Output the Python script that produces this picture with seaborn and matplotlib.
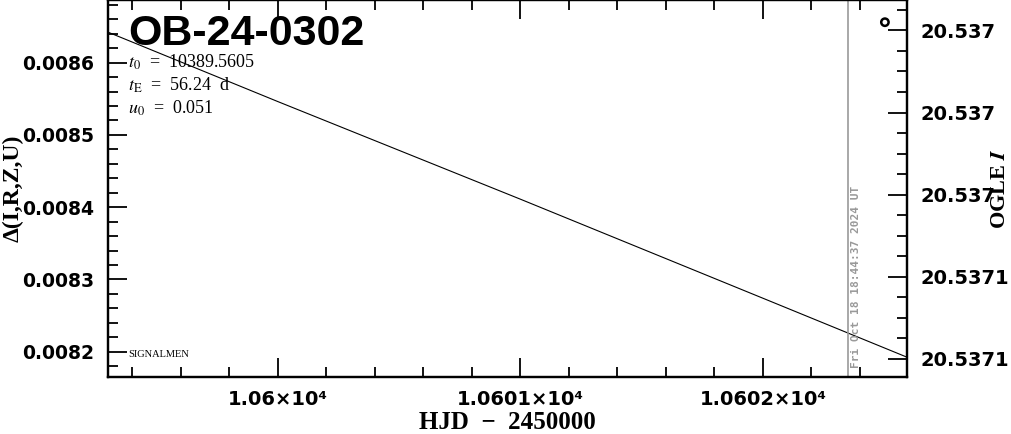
import numpy as np
import pandas as pd
import matplotlib
matplotlib.use("Agg")
import matplotlib.pyplot as plt
from matplotlib.ticker import MultipleLocator, FuncFormatter
import seaborn as sns

# model curve (HJD - 2450000, delta flux)
model_hjd = [10599.30, 10600.00, 10601.00, 10602.00, 10602.59]
model_delta = [0.008642, 0.008546, 0.008411, 0.008274, 0.008193]

# single OGLE I measurement
obs_hjd = [10602.503]
obs_mag = [20.536998]

now_hjd = 10602.35
now_label = "Fri Oct 18 18:44:37 2024 UT"
event_name = "OB-24-0302"
params = [r"$t_0$  =  10389.5605", r"$t_{\rm E}$  =  56.24  d", r"$u_0$  =  0.051"]

sns.set_theme(style="ticks")
plt.rcParams["font.family"] = ["DejaVu Sans"]
plt.rcParams["mathtext.fontset"] = "stix"
for k in ["text.color", "axes.labelcolor", "xtick.color", "ytick.color", "axes.edgecolor"]:
    plt.rcParams[k] = "black"

fig = plt.figure(figsize=(10.11, 4.34), dpi=100)
ax = fig.add_axes([0.1068, 0.1313, 0.7903, 0.8677])

df_model = pd.DataFrame({"hjd": model_hjd, "delta": model_delta})
sns.lineplot(data=df_model, x="hjd", y="delta", ax=ax, color="black", linewidth=0.8)

ax.set_xlim(10599.299, 10602.594)
ax.set_ylim(0.008165, 0.008686)
ax.axvline(now_hjd, color="#999999", linewidth=1.2)
ax.text(now_hjd + 0.012, 0.008178, now_label, rotation=90, color="#999999",
        fontsize=8, fontweight="bold", family="DejaVu Sans Mono",
        ha="left", va="bottom")

ax.xaxis.set_major_locator(MultipleLocator(1))
ax.xaxis.set_minor_locator(MultipleLocator(0.2))
ax.xaxis.set_major_formatter(FuncFormatter(lambda v, p: f"{v/1e4:g}\u00d710\u2074"))
ax.yaxis.set_major_locator(MultipleLocator(0.0001))
ax.yaxis.set_minor_locator(MultipleLocator(0.00002))
ax.yaxis.set_major_formatter(FuncFormatter(lambda v, p: f"{v:.4f}"))

ax.tick_params(which="both", direction="in", top=True, right=False, width=1.3,
               labelsize=14, pad=9)
ax.tick_params(axis="y", labelsize=13.5, pad=10)
ax.tick_params(which="major", length=14)
ax.tick_params(which="minor", length=7)
for lab in ax.get_xticklabels() + ax.get_yticklabels():
    lab.set_fontweight("bold")
for s in ax.spines.values():
    s.set_linewidth(1.6)

ax.set_xlabel("HJD  \u2212  2450000", family="Liberation Serif", fontweight="bold",
              fontsize=18, labelpad=2)
ax.set_ylabel("\u0394(I,R,Z,U)", family="Liberation Serif", fontweight="bold",
              fontsize=17, labelpad=-1)

ax.text(0.025, 0.965, event_name, transform=ax.transAxes, fontsize=31,
        fontweight="bold", family="Liberation Sans", va="top", ha="left")
for i, t in enumerate(params):
    ax.text(0.025, 0.835 - i * 0.061, t, transform=ax.transAxes, fontsize=13,
            family="Liberation Serif", va="center", ha="left")
ax.text(0.025, 0.06, "SIGNALMEN", transform=ax.transAxes, fontsize=7.5,
        family="Liberation Serif", va="center", ha="left")

ax2 = ax.twinx()
df_obs = pd.DataFrame({"hjd": obs_hjd, "mag": obs_mag})
sns.scatterplot(data=df_obs, x="hjd", y="mag", ax=ax2, marker="o", s=28,
                facecolor="none", edgecolor="black", linewidth=1.8)
ax2.set_ylim(20.5370844, 20.5369927)
ax2.yaxis.set_major_locator(MultipleLocator(0.00002))
ax2.yaxis.set_minor_locator(MultipleLocator(0.000005))
ax2.yaxis.set_major_formatter(FuncFormatter(lambda v, p: f"{v:.4f}".rstrip("0")))
ax2.tick_params(which="both", direction="in", width=1.3, labelsize=14, pad=10)
ax2.tick_params(which="major", length=14)
ax2.tick_params(which="minor", length=7)
for lab in ax2.get_yticklabels():
    lab.set_fontweight("bold")
ax2.set_ylabel(r"OGLE $\mathbfit{I}$", family="Liberation Serif", fontweight="bold",
               fontsize=16, labelpad=-14)
ax2.set_xlabel("")
for s in ax2.spines.values():
    s.set_linewidth(1.6)

fig.savefig("out.png", dpi=100)
